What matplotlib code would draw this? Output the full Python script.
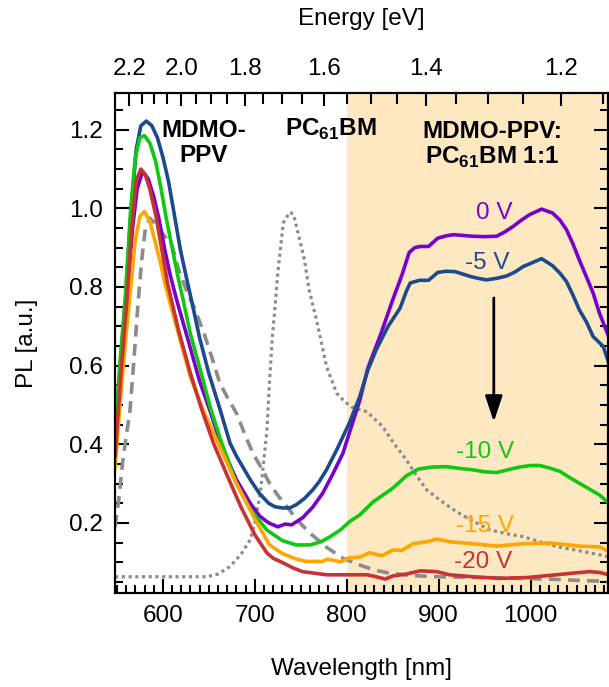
import matplotlib
matplotlib.use("Agg")
import matplotlib.pyplot as plt
from matplotlib.ticker import MultipleLocator

plt.rcParams["font.family"] = ["Liberation Sans", "DejaVu Sans"]
plt.rcParams["font.size"] = 17.5
plt.rcParams["mathtext.fontset"] = "custom"
plt.rcParams["mathtext.rm"] = "Liberation Sans"
plt.rcParams["mathtext.bf"] = "Liberation Sans:bold"

# PL spectra of the blend at different bias voltages
wl_0v = [548, 554, 561, 567, 572, 578, 584, 590, 596, 602, 608, 615, 628, 640, 652,
         663, 680, 695, 705, 715, 725, 733, 740, 752, 763, 774, 785, 796, 803, 814,
         823, 837, 850, 860, 868, 874, 880, 889, 899, 908, 916, 927, 937, 950, 963,
         972, 981, 990, 999, 1012, 1024, 1032, 1039, 1046, 1053, 1060, 1068, 1075, 1085]
pl_0v = [0.40, 0.58, 0.77, 0.95, 1.05, 1.094, 1.075, 1.03, 0.97, 0.895, 0.83, 0.767,
         0.66, 0.56, 0.48, 0.40, 0.31, 0.25, 0.218, 0.20, 0.19, 0.197, 0.195, 0.213,
         0.24, 0.276, 0.325, 0.378, 0.43, 0.51, 0.594, 0.68, 0.767, 0.83, 0.888, 0.90,
         0.903, 0.903, 0.924, 0.93, 0.933, 0.931, 0.929, 0.928, 0.929, 0.94, 0.954,
         0.97, 0.984, 0.998, 0.988, 0.97, 0.946, 0.91, 0.869, 0.83, 0.785, 0.733, 0.674]

wl_5v = [548, 553, 559, 565, 571, 576, 582, 588, 594, 600, 606, 612, 619, 625, 631,
         640, 650, 662, 673, 680, 695, 705, 715, 722, 730, 738, 745, 754, 763, 770,
         778, 790, 803, 814, 823, 832, 845, 858, 865, 869, 879, 889, 899, 908, 918,
         926, 934, 943, 952, 963, 974, 983, 992, 1002, 1012, 1024, 1032, 1039, 1046,
         1053, 1061, 1068, 1079, 1085]
pl_5v = [0.41, 0.58, 0.76, 0.98, 1.15, 1.21, 1.222, 1.21, 1.18, 1.13, 1.07, 0.99,
         0.895, 0.83, 0.767, 0.67, 0.58, 0.49, 0.403, 0.37, 0.31, 0.275, 0.25, 0.241,
         0.238, 0.238, 0.246, 0.262, 0.284, 0.305, 0.335, 0.39, 0.455, 0.52, 0.589,
         0.64, 0.70, 0.746, 0.79, 0.81, 0.817, 0.817, 0.837, 0.84, 0.839, 0.833, 0.827,
         0.822, 0.818, 0.822, 0.828, 0.838, 0.852, 0.862, 0.872, 0.854, 0.835, 0.814,
         0.78, 0.742, 0.71, 0.674, 0.649, 0.607]

wl_10v = [548, 553, 559, 565, 570, 575, 580, 586, 592, 598, 604, 610, 616, 622, 630,
          640, 652, 664, 680, 695, 713, 730, 745, 760, 772, 782, 793, 803, 814, 829,
          850, 865, 878, 893, 908, 925, 937, 950, 963, 975, 988, 1000, 1010, 1020,
          1032, 1042, 1053, 1064, 1075, 1085]
pl_10v = [0.42, 0.60, 0.77, 1.0, 1.13, 1.18, 1.185, 1.165, 1.12, 1.05, 0.97, 0.90,
          0.83, 0.767, 0.68, 0.595, 0.49, 0.403, 0.30, 0.235, 0.182, 0.155, 0.144,
          0.144, 0.152, 0.165, 0.182, 0.203, 0.22, 0.254, 0.288, 0.32, 0.337, 0.342,
          0.343, 0.338, 0.335, 0.330, 0.328, 0.335, 0.342, 0.346, 0.346, 0.34, 0.331,
          0.316, 0.301, 0.286, 0.271, 0.25]

wl_15v = [548, 554, 560, 565, 570, 575, 580, 586, 591, 597, 602, 610, 620, 630, 645,
          660, 680, 700, 716, 730, 745, 756, 774, 779, 785, 793, 803, 814, 825, 832,
          839, 850, 860, 872, 887, 898, 912, 937, 963, 992, 1021, 1053, 1075, 1085]
pl_15v = [0.34, 0.52, 0.68, 0.80, 0.92, 0.98, 0.992, 0.965, 0.92, 0.865, 0.81, 0.74,
          0.655, 0.57, 0.48, 0.403, 0.30, 0.21, 0.144, 0.122, 0.108, 0.102, 0.102,
          0.108, 0.105, 0.101, 0.111, 0.113, 0.124, 0.12, 0.117, 0.131, 0.13, 0.147,
          0.152, 0.159, 0.152, 0.147, 0.141, 0.147, 0.149, 0.141, 0.139, 0.127]

wl_20v = [548, 554, 561, 566, 571, 576, 581, 586, 592, 597, 605, 617, 630, 642, 655,
          670, 685, 700, 713, 720, 731, 742, 752, 765, 778, 790, 803, 822, 832, 842,
          850, 865, 880, 898, 912, 937, 966, 996, 1028, 1045, 1064, 1075, 1085]
pl_20v = [0.37, 0.57, 0.77, 0.95, 1.07, 1.10, 1.085, 1.047, 0.985, 0.92, 0.81, 0.69,
          0.58, 0.49, 0.403, 0.32, 0.24, 0.17, 0.124, 0.11, 0.098, 0.085, 0.076, 0.072,
          0.068, 0.068, 0.068, 0.068, 0.063, 0.057, 0.065, 0.07, 0.078, 0.076, 0.068,
          0.063, 0.059, 0.061, 0.068, 0.072, 0.076, 0.074, 0.068]

# reference films
wl_ppv = [548, 552, 556, 560, 564, 568, 573, 577, 581, 586, 592, 600, 610, 617, 626,
          635, 645, 653, 662, 670, 680, 690, 698, 707, 716, 725, 735, 747, 760, 778,
          796, 814, 830, 847, 870, 901, 940, 974, 1020, 1050, 1085]
pl_ppv = [0.19, 0.26, 0.35, 0.42, 0.48, 0.60, 0.76, 0.87, 0.95, 0.975, 0.96, 0.935,
          0.905, 0.845, 0.789, 0.742, 0.68, 0.623, 0.555, 0.52, 0.479, 0.42, 0.377,
          0.34, 0.301, 0.27, 0.241, 0.205, 0.174, 0.138, 0.11, 0.093, 0.08, 0.072,
          0.066, 0.063, 0.061, 0.06, 0.057, 0.054, 0.051]

wl_pcbm = [548, 600, 648, 660, 673, 685, 695, 700, 706, 713, 716, 719, 722, 725, 731,
           738, 742, 747, 754, 759, 767, 771, 778, 789, 797, 805, 815, 822, 830, 839,
           852, 865, 876, 887, 903, 919, 937, 956, 975, 992, 1010, 1028, 1046, 1064, 1085]
pl_pcbm = [0.063, 0.063, 0.063, 0.07, 0.089, 0.12, 0.157, 0.2, 0.276, 0.43, 0.56,
           0.67, 0.75, 0.836, 0.963, 0.99, 0.985, 0.938, 0.869, 0.793, 0.717, 0.674,
           0.598, 0.53, 0.51, 0.495, 0.487, 0.483, 0.465, 0.445, 0.40, 0.36, 0.32,
           0.284, 0.255, 0.229, 0.205, 0.182, 0.172, 0.165, 0.152, 0.14, 0.132, 0.124, 0.114]

voltages = ["0 V", "-5 V", "-10 V", "-15 V", "-20 V"]
colors = ["#7700cc", "#1c4a8c", "#10c810", "#ffa500", "#c83232"]
label_x = [960, 953, 950, 950, 948]
label_y = [0.989, 0.862, 0.381, 0.192, 0.101]

energy_major = [2.2, 2.0, 1.8, 1.6, 1.4, 1.2]
energy_minor = [round(1.15 + 0.05 * i, 2) for i in range(22)]

fig = plt.figure(figsize=(6.09, 6.87), dpi=100)
ax = fig.add_axes([0.189, 0.137, 0.809, 0.728])
xmin, xmax = 548, 1084
ax.set_xlim(xmin, xmax)
ax.set_ylim(0.022, 1.294)

ax.axvspan(800, xmax, color="#fde8c2", lw=0, zorder=0)

ax.plot(wl_ppv, pl_ppv, color="#8c8c8c", lw=2.6, ls=(0, (3.3, 2)))
ax.plot(wl_pcbm, pl_pcbm, color="#8c8c8c", lw=2.3, ls=(0, (1, 1.1)))

series = [(wl_0v, pl_0v), (wl_5v, pl_5v), (wl_10v, pl_10v), (wl_15v, pl_15v), (wl_20v, pl_20v)]
for (wl, pl), c in zip(series, colors):
    ax.plot(wl, pl, color=c, lw=2.6, solid_joinstyle="round")

for v, c, lx, ly in zip(voltages, colors, label_x, label_y):
    ax.text(lx, ly, v, color=c, ha="center", va="center")

ax.annotate("", xy=(960, 0.457), xytext=(960, 0.772),
            arrowprops=dict(arrowstyle="-|>,head_length=0.9,head_width=0.3",
                            color="black", lw=2, shrinkA=0, shrinkB=0))

ax.text(644, 1.166, "MDMO-\nPPV", fontweight="bold", ha="center", va="center",
        linespacing=1.1)
ax.text(783, 1.2, r"PC$_{\mathbf{61}}$BM", fontweight="bold", ha="center", va="center")
ax.text(958, 1.162, "MDMO-PPV:\n" + r"PC$_{\mathbf{61}}$BM 1:1", fontweight="bold",
        ha="center", va="center", linespacing=1.1)

ax.xaxis.set_major_locator(MultipleLocator(100))
ax.xaxis.set_minor_locator(MultipleLocator(10))
ax.yaxis.set_major_locator(MultipleLocator(0.2))
ax.yaxis.set_minor_locator(MultipleLocator(0.05))
ax.tick_params(which="both", direction="in", right=True, top=False, width=1.5)
ax.tick_params(which="major", length=10, pad=9)
ax.tick_params(which="minor", length=5.5)
ax.set_xlabel("Wavelength [nm]", labelpad=22)
ax.set_ylabel("PL [a.u.]", labelpad=22)
for s in ax.spines.values():
    s.set_linewidth(1.5)

# energy scale on top
top = ax.twiny()
top.set_xlim(xmin, xmax)
top.set_xticks([1240 / e for e in energy_major])
top.set_xticklabels([f"{e:.1f}" for e in energy_major])
top.set_xticks([1240 / e for e in energy_minor if xmin < 1240 / e < xmax], minor=True)
top.tick_params(which="both", direction="in", width=1.5)
top.tick_params(which="major", length=9, pad=9)
top.tick_params(which="minor", length=8)
top.set_xlabel("Energy [eV]", labelpad=24)
for s in top.spines.values():
    s.set_linewidth(1.5)

fig.savefig("out.png", dpi=100)
